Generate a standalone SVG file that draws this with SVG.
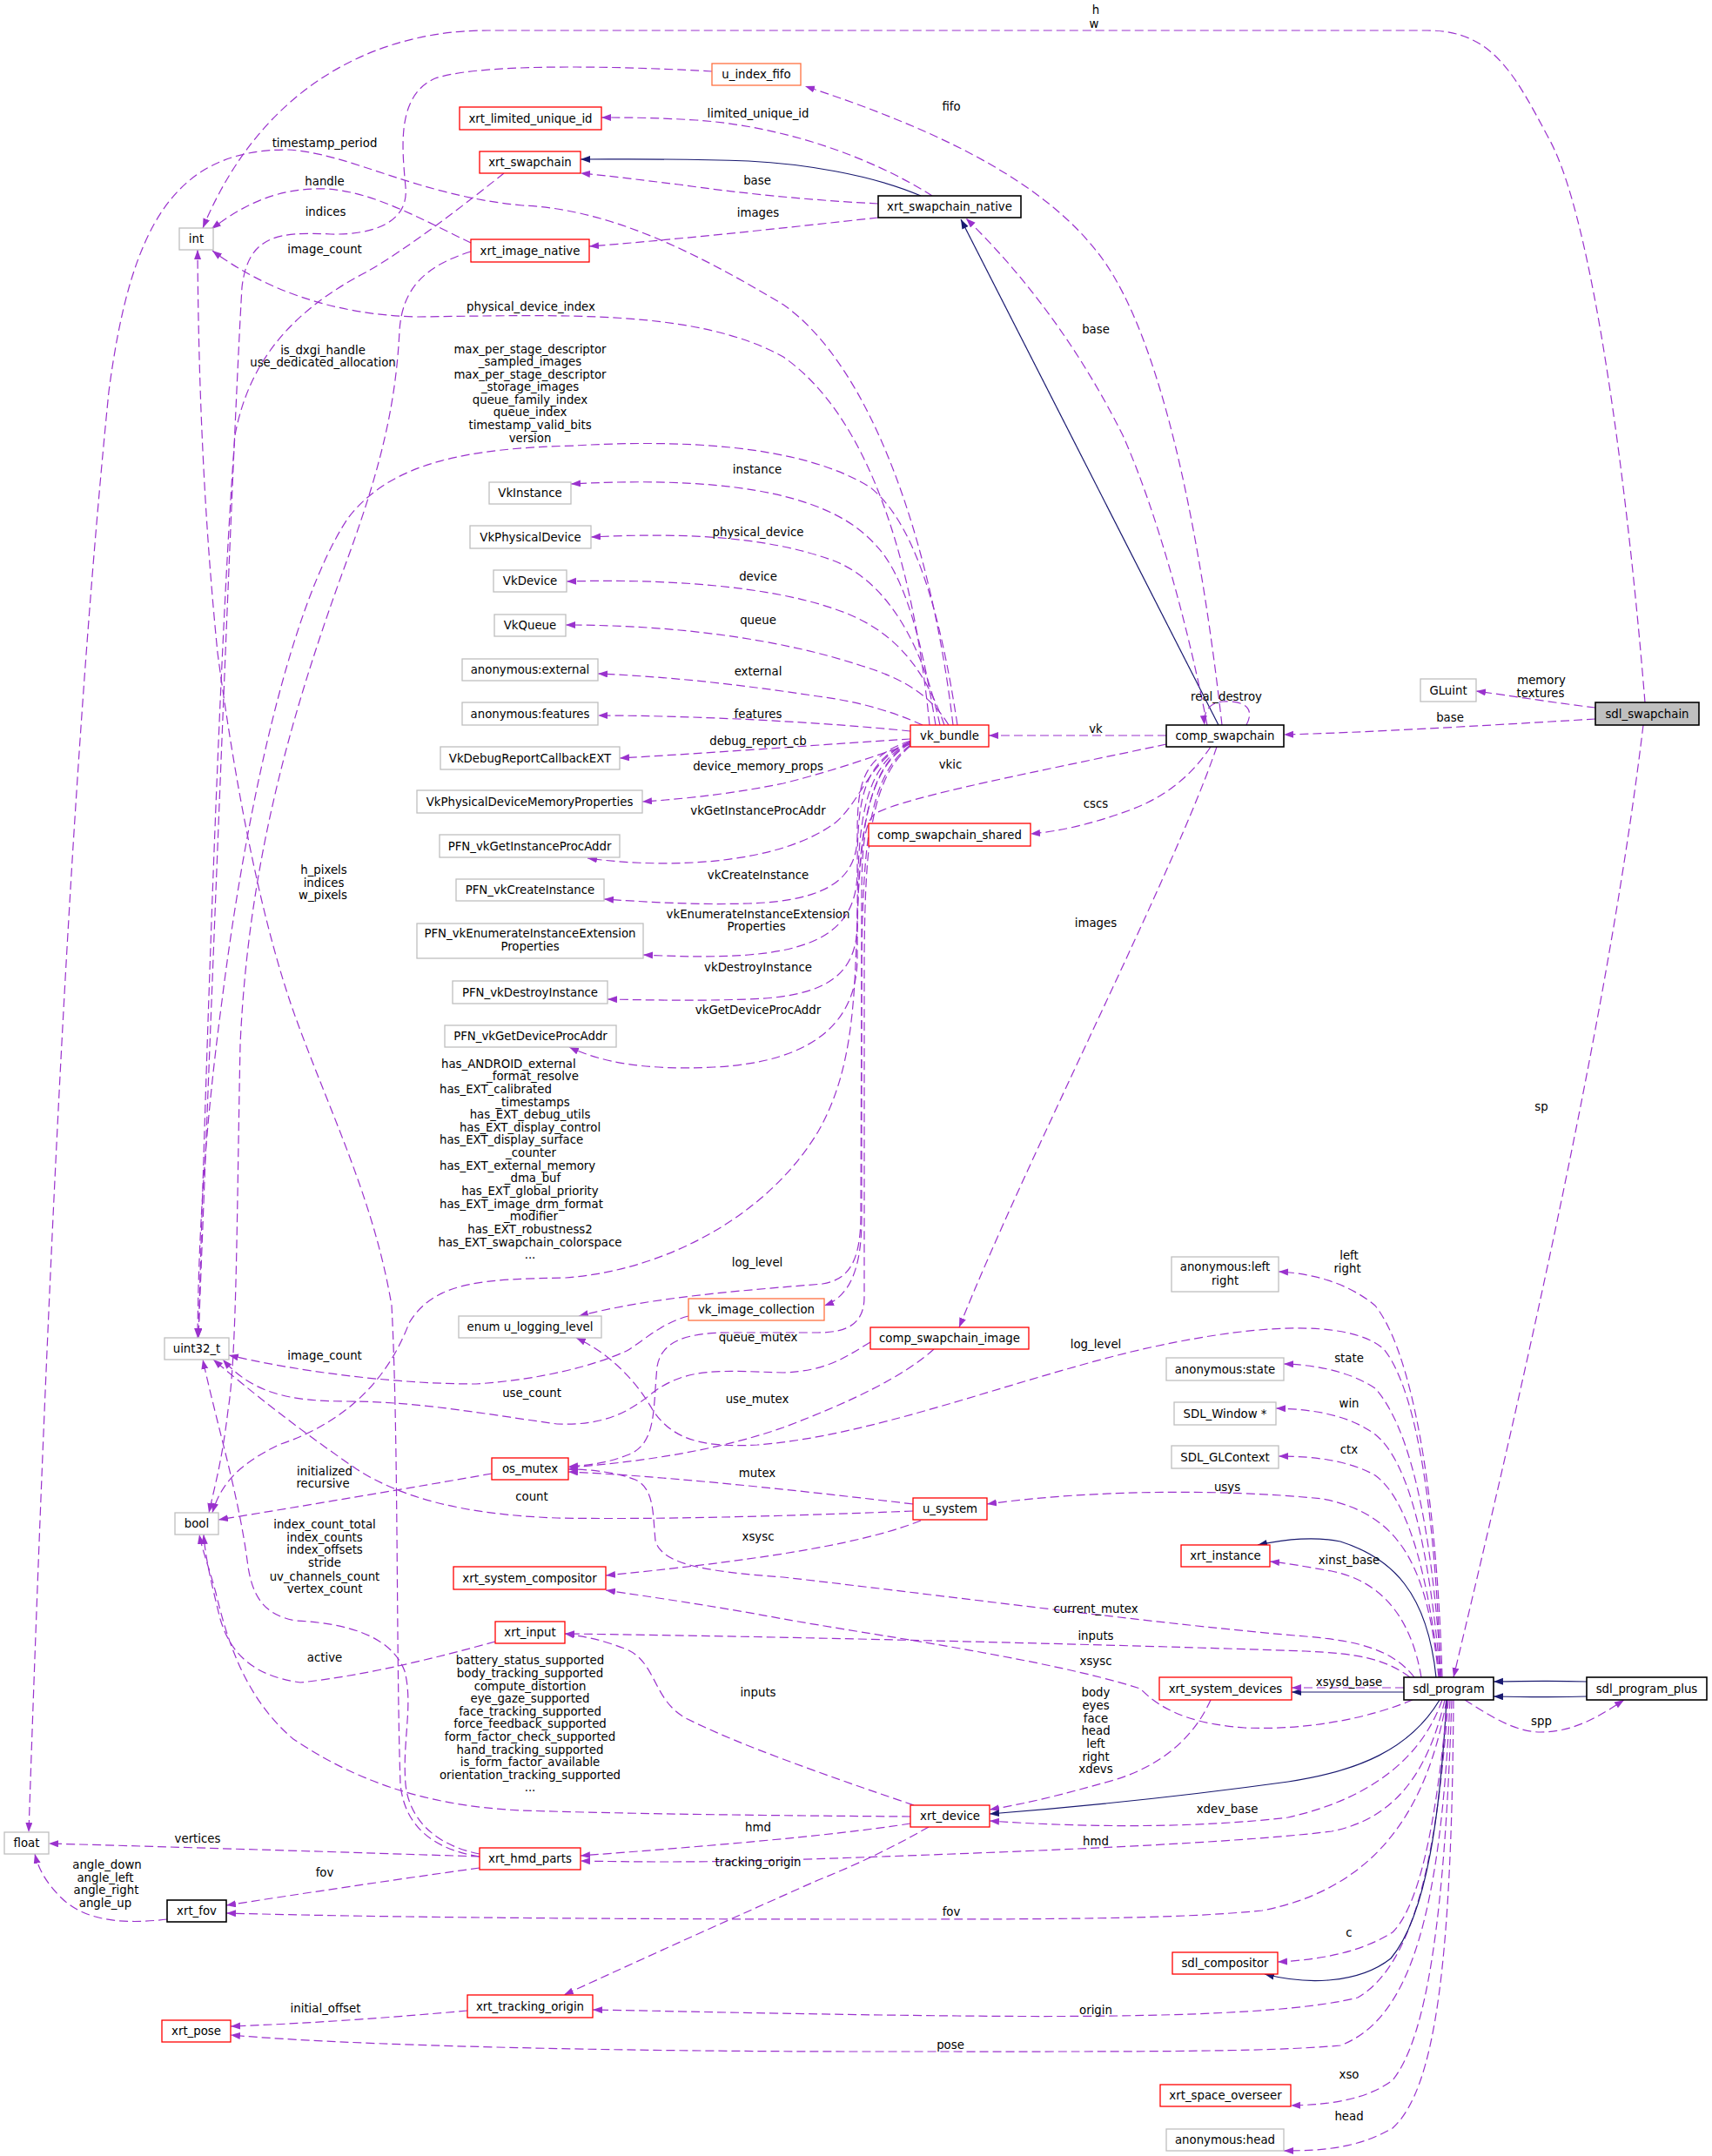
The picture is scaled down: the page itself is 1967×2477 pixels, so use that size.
<svg xmlns="http://www.w3.org/2000/svg" width="1967" height="2477" viewBox="0 0 1967 2477">
<style>
text{font-family:"DejaVu Sans","Liberation Sans",sans-serif;font-size:13.3px;fill:#000}
.n text{text-anchor:middle}
.l text{text-anchor:middle}
.l text.la{text-anchor:start}
rect{fill:#fff;stroke-width:1.3}
.r rect{stroke:#ff0000}
.o rect{stroke:#ff7040}
.g rect{stroke:#bfbfbf}
.b rect{stroke:#000;stroke-width:1.6}
.e{fill:none;stroke:#9a32cd;stroke-width:1.2;stroke-dasharray:10,5;marker-end:url(#ap)}
.s{fill:none;stroke:#191970;stroke-width:1.2;marker-end:url(#an)}
</style>
<defs>
<marker id="ap" markerUnits="userSpaceOnUse" markerWidth="12" markerHeight="9" refX="11" refY="4" orient="auto"><path d="M0,0L11,4L0,8z" fill="#9a32cd"/></marker>
<marker id="an" markerUnits="userSpaceOnUse" markerWidth="12" markerHeight="9" refX="11" refY="4" orient="auto"><path d="M0,0L11,4L0,8z" fill="#191970"/></marker>
</defs>
<rect x="0" y="0" width="1967" height="2477" style="fill:#fff;stroke:none"/>
<g id="edges">
<path class="e" d="M1890,807 C1870,560 1830,250 1780,160 C1740,85 1715,35 1640,35 L560,35 C430,35 300,100 233,262"/>
<path class="e" d="M1833,813 C1790,808 1740,800 1696,794"/>
<path class="e" d="M1833,826 C1700,834 1560,842 1475,844"/>
<path class="e" d="M1888,833 C1850,1150 1760,1550 1670,1927"/>
<path class="s" d="M1400,833 L1104,252"/>
<path class="e" d="M1387,833 C1365,720 1330,590 1290,500 C1230,380 1160,300 1110,251"/>
<path class="e" d="M1404,833 C1380,620 1340,420 1280,318 C1220,215 1080,150 925,99"/>
<path class="e" d="M1432,833 C1445,808 1420,805 1405,806 C1392,807 1382,815 1384,833"/>
<path class="e" d="M1340,845 L1136,845"/>
<path class="e" d="M1391,858 C1370,890 1340,915 1300,930 C1260,945 1220,955 1184,958"/>
<path class="e" d="M1398,858 C1350,1000 1180,1330 1102,1525"/>
<path class="e" d="M1340,855 C1200,885 1040,915 1005,935 C988,950 990,1000 990,1100 L990,1400 C990,1460 975,1490 947,1500"/>
<path class="e" d="M1071,225 C1000,180 900,145 800,138 C750,135 720,135 691,135"/>
<path class="s" d="M1058,225 C1000,200 920,188 860,185 C780,182 720,183 667,183"/>
<path class="e" d="M1009,234 C930,230 850,222 780,212 C730,206 700,202 667,199"/>
<path class="e" d="M1009,250 C900,262 780,275 677,283"/>
<path class="e" d="M1075,833 C1060,740 1040,660 1005,625 C960,575 860,545 656,556"/>
<path class="e" d="M1080,833 C1060,740 1020,670 960,645 C880,615 780,612 679,617"/>
<path class="e" d="M1085,833 C1060,760 1020,720 960,700 C880,672 760,665 651,668"/>
<path class="e" d="M1090,833 C1070,800 1040,780 990,765 C900,735 780,718 650,718"/>
<path class="e" d="M1060,833 C1020,815 980,805 940,800 C860,788 780,778 687,774"/>
<path class="e" d="M1046,840 C950,830 800,822 687,822"/>
<path class="e" d="M1046,849 C950,855 850,863 712,871"/>
<path class="e" d="M1046,855 C1000,870 960,885 900,900 C850,910 800,917 738,921"/>
<path class="e" d="M1046,853 C1000,870 990,920 960,945 C900,990 780,1000 675,986"/>
<path class="e" d="M1046,851 C990,870 985,900 985,960 C985,1010 950,1035 860,1038 C800,1040 740,1036 694,1033"/>
<path class="e" d="M1046,852 C990,875 985,920 985,1000 C985,1060 950,1090 860,1097 C820,1100 780,1099 739,1097"/>
<path class="e" d="M1046,853 C990,880 985,950 985,1060 C985,1120 950,1145 860,1148 C800,1150 750,1149 698,1148"/>
<path class="e" d="M1046,854 C990,885 985,980 985,1100 C985,1170 940,1220 820,1226 C740,1230 690,1220 654,1203"/>
<path class="e" d="M1068,833 C1050,650 1000,480 900,410 C800,355 650,362 480,364 C380,362 300,330 244,288"/>
<path class="e" d="M1095,833 C1070,620 1000,420 900,350 C800,290 700,240 600,236 C480,225 400,175 330,172 C200,172 150,260 125,450 C90,800 60,1300 33,2105"/>
<path class="e" d="M1100,833 C1080,700 1050,600 1000,560 C920,510 780,505 660,512 C540,515 450,530 400,595 C330,700 280,950 255,1150 C235,1300 228,1420 227,1537"/>
<path class="e" d="M579,199 C540,230 470,285 420,313 C330,360 285,420 270,500 C255,700 240,1100 228,1537"/>
<path class="e" d="M818,82 C750,78 560,70 500,90 C455,110 462,170 466,215 C470,255 430,270 380,269 C320,266 285,270 278,330 C268,500 245,1100 228,1537"/>
<path class="e" d="M541,279 C490,255 430,220 375,217 C320,215 280,235 243,263"/>
<path class="e" d="M541,289 C490,305 462,330 459,380 C455,460 440,530 400,640 C330,830 285,1000 276,1200 C272,1400 272,1560 262,1620 C255,1680 246,1710 240,1738"/>
<path class="e" d="M1046,852 C1000,880 990,940 985,1050 C982,1150 980,1230 940,1300 C880,1400 760,1460 650,1468 C560,1470 500,1470 470,1520 C440,1600 380,1640 320,1660 C280,1680 255,1700 244,1738"/>
<path class="e" d="M1046,856 C1000,890 992,960 990,1100 L989,1400 C988,1450 975,1470 945,1475 C850,1483 750,1490 665,1512"/>
<path class="e" d="M1046,857 C1000,895 994,970 993,1100 L993,1490 C993,1520 975,1531 940,1531 L840,1531 C790,1531 760,1540 755,1570 C750,1620 755,1660 720,1672 C700,1680 680,1683 653,1685"/>
<path class="e" d="M1073,1550 C1040,1580 980,1610 900,1640 C820,1668 730,1680 653,1686"/>
<path class="e" d="M1000,1542 C970,1560 950,1575 900,1577 C830,1575 790,1570 750,1600 C720,1625 690,1638 640,1636 C560,1625 480,1610 400,1610 C330,1610 290,1600 256,1562"/>
<path class="e" d="M791,1512 C760,1520 740,1540 720,1552 C680,1570 620,1585 547,1590 C450,1590 340,1575 263,1557"/>
<path class="e" d="M565,1693 C480,1708 350,1730 251,1746"/>
<path class="e" d="M1049,1728 C900,1710 750,1695 653,1691"/>
<path class="e" d="M1049,1736 C900,1742 750,1746 640,1744 C530,1740 460,1720 410,1688 C340,1640 290,1600 245,1562"/>
<path class="e" d="M1058,1747 C1000,1770 900,1790 696,1810"/>
<path class="e" d="M1623,1953 C1570,1975 1500,1988 1430,1985 C1360,1980 1330,1960 1310,1940 C1200,1905 1000,1878 900,1860 C820,1845 750,1835 696,1827"/>
<path class="e" d="M1625,1927 C1600,1895 1560,1885 1500,1880 C1350,1868 1100,1835 900,1812 C800,1805 760,1795 753,1770 C750,1740 752,1710 730,1700 C710,1692 680,1688 653,1688"/>
<path class="e" d="M1655,1927 C1650,1750 1630,1600 1590,1550 C1550,1515 1440,1520 1300,1553 C1150,1590 1000,1650 870,1660 C800,1664 770,1650 750,1620 C730,1585 700,1555 662,1537"/>
<path class="e" d="M1653,1927 C1640,1800 1610,1740 1520,1722 C1400,1710 1250,1712 1134,1728"/>
<path class="e" d="M1620,1927 C1590,1905 1560,1900 1500,1897 C1300,1890 900,1880 649,1877"/>
<path class="e" d="M1050,2074 C950,2040 850,2005 790,1975 C750,1955 755,1910 720,1895 C690,1883 670,1880 649,1877"/>
<path class="e" d="M1391,1953 C1370,2000 1330,2030 1280,2045 C1220,2062 1180,2072 1137,2079"/>
<path class="s" d="M1654,1953 C1620,2010 1560,2035 1480,2047 C1350,2065 1250,2075 1137,2084"/>
<path class="e" d="M1657,1953 C1630,2030 1560,2070 1480,2088 C1380,2100 1250,2100 1137,2092"/>
<path class="e" d="M1660,1953 C1640,2040 1600,2090 1530,2104 C1400,2120 1100,2130 900,2137 C800,2140 720,2139 667,2138"/>
<path class="e" d="M1046,2095 C950,2110 800,2122 667,2132"/>
<path class="e" d="M1067,2099 C1030,2120 990,2140 940,2160 C850,2200 750,2245 648,2292"/>
<path class="e" d="M1046,2087 C900,2086 720,2084 600,2080 C480,2075 400,2040 337,1998 C280,1950 260,1880 248,1830 C240,1800 232,1780 229,1763"/>
<path class="e" d="M569,1886 C500,1905 420,1925 345,1933 C290,1925 265,1900 253,1860 C243,1820 236,1790 234,1763"/>
<path class="e" d="M551,2133 C400,2128 200,2122 56,2118"/>
<path class="e" d="M551,2146 C450,2160 350,2175 260,2189"/>
<path class="e" d="M1662,1953 C1640,2080 1580,2170 1450,2195 C1350,2205 1200,2205 1000,2205 C700,2205 450,2203 260,2198"/>
<path class="e" d="M192,2205 C150,2210 100,2210 70,2180 C55,2165 45,2150 40,2130"/>
<path class="e" d="M551,2133 C500,2125 465,2100 460,2050 C455,1900 458,1650 450,1500 C430,1380 380,1280 340,1170 C300,1060 270,900 250,750 C235,600 228,450 227,287"/>
<path class="e" d="M551,2130 C500,2120 470,2090 466,2050 C462,2000 475,1960 465,1920 C450,1880 400,1865 340,1862 C300,1855 290,1830 285,1800 C275,1720 250,1640 233,1562"/>
<path class="e" d="M537,2310 C450,2318 350,2325 265,2328"/>
<path class="e" d="M1664,1953 C1650,2150 1620,2260 1560,2295 C1480,2315 1300,2318 1100,2316 C900,2314 750,2310 681,2309"/>
<path class="e" d="M1666,1953 C1655,2200 1620,2320 1540,2350 C1450,2358 1300,2357 1000,2357 C700,2357 400,2350 265,2338"/>
<path class="s" d="M1662,1953 C1655,2080 1640,2200 1598,2250 C1560,2280 1500,2280 1453,2268"/>
<path class="e" d="M1663,1953 C1650,2100 1630,2190 1600,2220 C1560,2245 1510,2252 1468,2254"/>
<path class="e" d="M1668,1953 C1660,2200 1640,2340 1600,2390 C1570,2412 1530,2418 1483,2419"/>
<path class="e" d="M1670,1953 C1668,2250 1650,2400 1600,2445 C1560,2468 1520,2471 1475,2471"/>
<path class="s" d="M1613,1944 L1484,1944"/>
<path class="e" d="M1613,1939 L1484,1939"/>
<path class="s" d="M1823,1932 C1790,1931 1760,1931 1716,1932"/>
<path class="s" d="M1823,1949 C1790,1950 1760,1950 1716,1949"/>
<path class="e" d="M1683,1953 C1710,1970 1740,1990 1770,1990 C1810,1990 1840,1970 1866,1953"/>
<path class="s" d="M1650,1927 C1640,1830 1600,1790 1540,1771 C1510,1765 1480,1768 1445,1775"/>
<path class="e" d="M1633,1927 C1620,1850 1580,1815 1530,1805 C1500,1800 1480,1796 1459,1794"/>
<path class="e" d="M1657,1927 C1650,1700 1620,1550 1580,1500 C1550,1475 1510,1463 1469,1461"/>
<path class="e" d="M1656,1927 C1645,1750 1620,1640 1580,1595 C1550,1575 1510,1568 1475,1567"/>
<path class="e" d="M1655,1927 C1642,1780 1620,1680 1580,1648 C1550,1626 1510,1619 1466,1618"/>
<path class="e" d="M1654,1927 C1640,1800 1615,1720 1580,1695 C1550,1678 1510,1673 1469,1673"/>
</g>
<g id="labels" class="l">
<text x="1259" y="15.5">h</text><text x="1257" y="31.5">w</text>
<text x="1093" y="126.5">fifo</text>
<text x="871" y="134.5">limited_unique_id</text>
<text x="870" y="211.5">base</text>
<text x="871" y="248.5">images</text>
<text x="1259" y="382.5">base</text>
<text x="373" y="168.5">timestamp_period</text>
<text x="373" y="212.5">handle</text>
<text x="374" y="247.5">indices</text>
<text x="373" y="290.5">image_count</text>
<text x="610" y="356.5">physical_device_index</text>
<text x="371" y="406.5">is_dxgi_handle</text><text x="371" y="420.5">use_dedicated_allocation</text>
<text x="609" y="405.5">max_per_stage_descriptor</text>
<text x="609" y="420">_sampled_images</text>
<text x="609" y="434.5">max_per_stage_descriptor</text>
<text x="609" y="449">_storage_images</text>
<text x="609" y="463.5">queue_family_index</text>
<text x="609" y="478">queue_index</text>
<text x="609" y="493">timestamp_valid_bits</text>
<text x="609" y="507.5">version</text>
<text x="870" y="543.5">instance</text>
<text x="871" y="615.5">physical_device</text>
<text x="871" y="666.5">device</text>
<text x="871" y="716.5">queue</text>
<text x="871" y="775.5">external</text>
<text x="871" y="824.5">features</text>
<text x="871" y="855.5">debug_report_cb</text>
<text x="871" y="884.5">device_memory_props</text>
<text x="871" y="935.5">vkGetInstanceProcAddr</text>
<text x="871" y="1009.5">vkCreateInstance</text>
<text x="871" y="1054.5">vkEnumerateInstanceExtension</text><text x="869" y="1068.5">Properties</text>
<text x="871" y="1115.5">vkDestroyInstance</text>
<text x="871" y="1164.5">vkGetDeviceProcAddr</text>
<text x="1259" y="841.5">vk</text>
<text x="1092" y="882.5">vkic</text>
<text x="1259" y="927.5">cscs</text>
<text x="1259" y="1064.5">images</text>
<text x="1409" y="804.5">real_destroy</text>
<text x="1771" y="785.5">memory</text><text x="1770" y="800.5">textures</text>
<text x="1666" y="828.5">base</text>
<text x="372" y="1003.5">h_pixels</text><text x="372" y="1018.5">indices</text><text x="371" y="1032.5">w_pixels</text>
<text class="la" x="507" y="1226.5">has_ANDROID_external</text>
<text x="612" y="1241.2">_format_resolve</text>
<text class="la" x="505" y="1255.8">has_EXT_calibrated</text>
<text x="612" y="1270.5">_timestamps</text>
<text x="609" y="1285.1">has_EXT_debug_utils</text>
<text x="609" y="1299.8">has_EXT_display_control</text>
<text class="la" x="505" y="1314.4">has_EXT_display_surface</text>
<text x="610" y="1329.1">_counter</text>
<text class="la" x="505" y="1343.7">has_EXT_external_memory</text>
<text x="612" y="1358.4">_dma_buf</text>
<text x="609" y="1373">has_EXT_global_priority</text>
<text class="la" x="505" y="1387.7">has_EXT_image_drm_format</text>
<text x="610" y="1402.3">_modifier</text>
<text x="609" y="1417">has_EXT_robustness2</text>
<text x="609" y="1431.6">has_EXT_swapchain_colorspace</text>
<text x="609" y="1446.3">...</text>
<text x="870" y="1454.5">log_level</text>
<text x="871" y="1540.5">queue_mutex</text>
<text x="870" y="1611.5">use_mutex</text>
<text x="870" y="1696.5">mutex</text>
<text x="871" y="1769.5">xsysc</text>
<text x="1259" y="1548.5">log_level</text>
<text x="1259" y="1852.5">current_mutex</text>
<text x="373" y="1561.5">image_count</text>
<text x="611" y="1604.5">use_count</text>
<text x="373" y="1694.5">initialized</text><text x="371" y="1708.5">recursive</text>
<text x="611" y="1723.5">count</text>
<text x="373" y="1755.5">index_count_total</text>
<text x="373" y="1770.5">index_counts</text>
<text x="373" y="1784.5">index_offsets</text>
<text x="373" y="1799.5">stride</text>
<text x="373" y="1815.5">uv_channels_count</text>
<text x="373" y="1829.5">vertex_count</text>
<text x="1771" y="1275.5">sp</text>
<text x="1550" y="1446.5">left</text><text x="1548" y="1461.5">right</text>
<text x="1550" y="1564.5">state</text>
<text x="1550" y="1616.5">win</text>
<text x="1550" y="1669.5">ctx</text>
<text x="1410" y="1712.5">usys</text>
<text x="1550" y="1796.5">xinst_base</text>
<text x="373" y="1908.5">active</text>
<text x="609" y="1911.5">battery_status_supported</text>
<text x="609" y="1926.5">body_tracking_supported</text>
<text x="609" y="1941.5">compute_distortion</text>
<text x="609" y="1955.5">eye_gaze_supported</text>
<text x="609" y="1970.5">face_tracking_supported</text>
<text x="609" y="1984.5">force_feedback_supported</text>
<text x="609" y="1999.5">form_factor_check_supported</text>
<text x="609" y="2014.5">hand_tracking_supported</text>
<text x="609" y="2028.5">is_form_factor_available</text>
<text x="609" y="2043.5">orientation_tracking_supported</text>
<text x="609" y="2058">...</text>
<text x="227" y="2116.5">vertices</text>
<text x="123" y="2146.5">angle_down</text>
<text x="121" y="2161.5">angle_left</text>
<text x="122" y="2175.5">angle_right</text>
<text x="121" y="2190.5">angle_up</text>
<text x="373" y="2155.5">fov</text>
<text x="374" y="2311.5">initial_offset</text>
<text x="1259" y="1883.5">inputs</text>
<text x="1259" y="1912.5">xsysc</text>
<text x="871" y="1948.5">inputs</text>
<text x="1259" y="1948.5">body</text>
<text x="1259" y="1963.5">eyes</text>
<text x="1259" y="1978.5">face</text>
<text x="1259" y="1992.5">head</text>
<text x="1259" y="2007.5">left</text>
<text x="1259" y="2022.5">right</text>
<text x="1259" y="2036.5">xdevs</text>
<text x="871" y="2103.5">hmd</text>
<text x="871" y="2143.5">tracking_origin</text>
<text x="1259" y="2119.5">hmd</text>
<text x="1093" y="2200.5">fov</text>
<text x="1259" y="2313.5">origin</text>
<text x="1092" y="2353.5">pose</text>
<text x="1550" y="1936.5">xsysd_base</text>
<text x="1771" y="1981.5">spp</text>
<text x="1410" y="2082.5">xdev_base</text>
<text x="1550" y="2224.5">c</text>
<text x="1550" y="2387.5">xso</text>
<text x="1550" y="2435.5">head</text>
</g>
<g id="nodes" class="n">
<g id="n_int" class="g"><rect x="206" y="262" width="39" height="25"/><text x="225.5" y="279">int</text></g>
<g id="n_xrt_limited_unique_id" class="r"><rect x="528" y="123" width="163" height="26"/><text x="609.5" y="140.5">xrt_limited_unique_id</text></g>
<g id="n_xrt_swapchain" class="r"><rect x="551" y="174" width="116" height="25"/><text x="609" y="191">xrt_swapchain</text></g>
<g id="n_xrt_image_native" class="r"><rect x="541" y="275" width="136" height="26"/><text x="609" y="292.5">xrt_image_native</text></g>
<g id="n_u_index_fifo" class="o"><rect x="818" y="73" width="102" height="25"/><text x="869" y="90">u_index_fifo</text></g>
<g id="n_xrt_swapchain_native" class="b"><rect x="1009" y="225" width="164" height="25"/><text x="1091" y="242">xrt_swapchain_native</text></g>
<g id="n_VkInstance" class="g"><rect x="562" y="554" width="94" height="25"/><text x="609" y="571">VkInstance</text></g>
<g id="n_VkPhysicalDevice" class="g"><rect x="540" y="604" width="139" height="26"/><text x="609.5" y="621.5">VkPhysicalDevice</text></g>
<g id="n_VkDevice" class="g"><rect x="567" y="655" width="84" height="25"/><text x="609" y="672">VkDevice</text></g>
<g id="n_VkQueue" class="g"><rect x="568" y="706" width="82" height="25"/><text x="609" y="723">VkQueue</text></g>
<g id="n_anon_external" class="g"><rect x="531" y="757" width="156" height="25"/><text x="609" y="774">anonymous:external</text></g>
<g id="n_anon_features" class="g"><rect x="531" y="807" width="156" height="26"/><text x="609" y="824.5">anonymous:features</text></g>
<g id="n_VkDebugReportCallbackEXT" class="g"><rect x="506" y="858" width="206" height="26"/><text x="609" y="875.5">VkDebugReportCallbackEXT</text></g>
<g id="n_VkPhysicalDeviceMemoryProperties" class="g"><rect x="479" y="908" width="259" height="26"/><text x="608.5" y="925.5">VkPhysicalDeviceMemoryProperties</text></g>
<g id="n_PFN_vkGetInstanceProcAddr" class="g"><rect x="505" y="959" width="207" height="26"/><text x="608.5" y="976.5">PFN_vkGetInstanceProcAddr</text></g>
<g id="n_PFN_vkCreateInstance" class="g"><rect x="524" y="1010" width="170" height="25"/><text x="609" y="1027">PFN_vkCreateInstance</text></g>
<g id="n_PFN_vkEnumerateInstanceExtensionProperties" class="g"><rect x="479" y="1061" width="260" height="40"/><text x="609" y="1076.5">PFN_vkEnumerateInstanceExtension</text><text x="609" y="1091.5">Properties</text></g>
<g id="n_PFN_vkDestroyInstance" class="g"><rect x="520" y="1127" width="178" height="26"/><text x="609" y="1144.5">PFN_vkDestroyInstance</text></g>
<g id="n_PFN_vkGetDeviceProcAddr" class="g"><rect x="511" y="1178" width="197" height="25"/><text x="609.5" y="1195">PFN_vkGetDeviceProcAddr</text></g>
<g id="n_vk_bundle" class="r"><rect x="1046" y="833" width="90" height="25"/><text x="1091" y="850">vk_bundle</text></g>
<g id="n_comp_swapchain_shared" class="r"><rect x="998" y="946" width="186" height="26"/><text x="1091" y="963.5">comp_swapchain_shared</text></g>
<g id="n_comp_swapchain" class="b"><rect x="1340" y="833" width="135" height="25"/><text x="1407.5" y="850">comp_swapchain</text></g>
<g id="n_GLuint" class="g"><rect x="1632" y="780" width="64" height="26"/><text x="1664" y="797.5">GLuint</text></g>
<g id="n_sdl_swapchain" class="b"><rect x="1833" y="807" width="119" height="26" style="fill:#bfbfbf"/><text x="1892.5" y="824.5">sdl_swapchain</text></g>
<g id="n_u_logging_level" class="g"><rect x="527" y="1512" width="164" height="25"/><text x="609" y="1529">enum u_logging_level</text></g>
<g id="n_uint32_t" class="g"><rect x="189" y="1537" width="74" height="25"/><text x="226" y="1554">uint32_t</text></g>
<g id="n_bool" class="g"><rect x="201" y="1738" width="50" height="25"/><text x="226" y="1755">bool</text></g>
<g id="n_os_mutex" class="r"><rect x="565" y="1675" width="88" height="25"/><text x="609" y="1692">os_mutex</text></g>
<g id="n_xrt_system_compositor" class="r"><rect x="521" y="1800" width="175" height="26"/><text x="608.5" y="1817.5">xrt_system_compositor</text></g>
<g id="n_vk_image_collection" class="o"><rect x="791" y="1492" width="156" height="25"/><text x="869" y="1509">vk_image_collection</text></g>
<g id="n_comp_swapchain_image" class="r"><rect x="1000" y="1525" width="182" height="25"/><text x="1091" y="1542">comp_swapchain_image</text></g>
<g id="n_u_system" class="r"><rect x="1049" y="1721" width="85" height="25"/><text x="1091.5" y="1738">u_system</text></g>
<g id="n_xrt_input" class="r"><rect x="569" y="1863" width="80" height="25"/><text x="609" y="1880">xrt_input</text></g>
<g id="n_float" class="g"><rect x="5" y="2105" width="51" height="25"/><text x="30.5" y="2122">float</text></g>
<g id="n_xrt_hmd_parts" class="r"><rect x="551" y="2123" width="116" height="25"/><text x="609" y="2140">xrt_hmd_parts</text></g>
<g id="n_xrt_fov" class="b"><rect x="192" y="2183" width="68" height="25"/><text x="226" y="2200">xrt_fov</text></g>
<g id="n_xrt_tracking_origin" class="r"><rect x="537" y="2292" width="144" height="26"/><text x="609" y="2309.5">xrt_tracking_origin</text></g>
<g id="n_xrt_pose" class="r"><rect x="186" y="2321" width="79" height="25"/><text x="225.5" y="2338">xrt_pose</text></g>
<g id="n_xrt_device" class="r"><rect x="1046" y="2074" width="91" height="25"/><text x="1091.5" y="2091">xrt_device</text></g>
<g id="n_xrt_system_devices" class="r"><rect x="1332" y="1927" width="152" height="26"/><text x="1408" y="1944.5">xrt_system_devices</text></g>
<g id="n_sdl_program" class="b"><rect x="1613" y="1927" width="103" height="26"/><text x="1664.5" y="1944.5">sdl_program</text></g>
<g id="n_sdl_program_plus" class="b"><rect x="1823" y="1927" width="138" height="26"/><text x="1892" y="1944.5">sdl_program_plus</text></g>
<g id="n_sdl_compositor" class="r"><rect x="1347" y="2243" width="121" height="25"/><text x="1407.5" y="2260">sdl_compositor</text></g>
<g id="n_xrt_space_overseer" class="r"><rect x="1333" y="2395" width="150" height="25"/><text x="1408" y="2412">xrt_space_overseer</text></g>
<g id="n_anon_head" class="g"><rect x="1340" y="2446" width="135" height="25"/><text x="1407.5" y="2463">anonymous:head</text></g>
<g id="n_anon_left_right" class="g"><rect x="1346" y="1444" width="123" height="40"/><text x="1407.5" y="1459.5">anonymous:left</text><text x="1407.5" y="1475.5">right</text></g>
<g id="n_anon_state" class="g"><rect x="1340" y="1560" width="135" height="26"/><text x="1407.5" y="1577.5">anonymous:state</text></g>
<g id="n_SDL_Window" class="g"><rect x="1349" y="1611" width="117" height="26"/><text x="1407.5" y="1628.5">SDL_Window *</text></g>
<g id="n_SDL_GLContext" class="g"><rect x="1346" y="1661" width="123" height="26"/><text x="1407.5" y="1678.5">SDL_GLContext</text></g>
<g id="n_xrt_instance" class="r"><rect x="1357" y="1775" width="102" height="25"/><text x="1408" y="1792">xrt_instance</text></g>
</g>
</svg>
